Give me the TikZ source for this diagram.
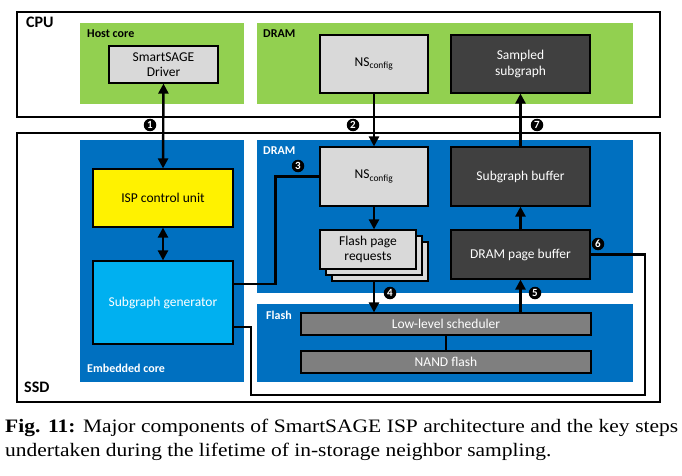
\documentclass[tikz,border=0pt]{standalone}
\usepackage{fontspec}
\setmainfont{Liberation Serif}
\newfontfamily\calib{Carlito}
\newfontfamily\capfont[FakeStretch=1.13]{Liberation Serif}
\usepackage{xcolor}
\usetikzlibrary{arrows.meta}

\definecolor{hostgreen}{HTML}{92D050}
\definecolor{ssdblue}{HTML}{0070C0}
\definecolor{genblue}{HTML}{00B0F0}
\definecolor{lightbox}{HTML}{D9D9D9}
\definecolor{darkbox}{HTML}{404040}
\definecolor{midbox}{HTML}{7F7F7F}

\tikzset{
  blk/.style={draw=black, line width=1.2pt, align=center, inner sep=0pt,
    font=\calib\fontsize{13.5}{15.5}\selectfont},
  lightblk/.style={blk, fill=lightbox},
  darkblk/.style={blk, fill=darkbox, text=white},
  flashblk/.style={blk, fill=midbox, text=white},
  region/.style={font=\calib\bfseries\fontsize{12}{14}\selectfont, anchor=north west, inner sep=0pt},
  stepnum/.style={circle, fill=black, text=white, inner sep=0pt, minimum size=12.5pt,
    font=\calib\bfseries\fontsize{11}{11}\selectfont},
  flow/.style={line width=2.4pt, -{Triangle[length=10pt,width=10pt]}},
  link/.style={line width=2.4pt},
}

\begin{document}
\begin{tikzpicture}[x=1pt,y=-1pt]
\useasboundingbox (0,0) rectangle (682,476);

% outer boxes
\draw[line width=1.5pt] (17,12) rectangle (660,117);
\draw[line width=1.5pt] (17,133) rectangle (660,402);
\node[region, font=\calib\bfseries\fontsize{16}{18}\selectfont] at (26,17) {CPU};
\node[region, font=\calib\bfseries\fontsize{16}{18}\selectfont] at (24,382) {SSD};

% coloured regions
\fill[hostgreen] (80,23) rectangle (244,104);
\fill[hostgreen] (257,23) rectangle (633,104);
\fill[ssdblue] (80,140) rectangle (244,382);
\fill[ssdblue] (257,140) rectangle (633,293);
\fill[ssdblue] (257,304) rectangle (633,382);

\node[region] at (87,30) {Host core};
\node[region] at (263,30) {DRAM};
\node[region, text=white] at (263,147) {DRAM};
\node[region, text=white] at (266,311) {Flash};
\node[region, text=white] at (87,364) {Embedded core};

% blocks
\node[lightblk, minimum width=109, minimum height=37] (driver) at (163.5,64.5) {SmartSAGE\\Driver};
\node[lightblk, minimum width=108, minimum height=58] (nshost) at (374,64) {NS\textsubscript{config}};
\node[darkblk, minimum width=139, minimum height=58] (sampled) at (520.5,64) {Sampled\\subgraph};

\node[blk, fill=yellow, minimum width=140, minimum height=58] (isp) at (163,198) {ISP control unit};
\node[blk, fill=genblue, text=white, minimum width=140, minimum height=83] (subgen) at (163,302.5) {Subgraph generator};

\node[lightblk, minimum width=108, minimum height=59] (nsssd) at (374,176.5) {NS\textsubscript{config}};
\node[lightblk, minimum width=96, minimum height=39] (fprc) at (380,261.5) {};
\node[lightblk, minimum width=96, minimum height=39] (fprb) at (374,255.5) {};
\node[lightblk, minimum width=96, minimum height=39] (fpr) at (368,249.5) {Flash page\\requests};

\node[darkblk, minimum width=139, minimum height=59] (subbuf) at (520.5,176.5) {Subgraph buffer};
\node[darkblk, minimum width=139, minimum height=49] (dpb) at (520.5,254.5) {DRAM page buffer};

\node[flashblk, minimum width=290, minimum height=22] (lls) at (446,324) {Low-level scheduler};
\node[flashblk, minimum width=290, minimum height=22] (nand) at (446,362) {NAND flash};

% connectors
\draw[flow, {Triangle[length=10pt,width=10pt]}-{Triangle[length=10pt,width=10pt]}] (driver.south) -- (isp.north);
\draw[flow, {Triangle[length=10pt,width=10pt]}-{Triangle[length=10pt,width=10pt]}] (isp.south) -- (subgen.north);
\draw[flow] (nshost.south) -- (nsssd.north);
\draw[link] ([yshift=18.5pt]subgen.east) -- ++(42,0) |- (nsssd.west);
\draw[flow] (nsssd.south) -- (nsssd.south |- fpr.north);
\draw[flow] (nsssd.south |- fprc.south) -- (nsssd.south |- lls.north);
\draw[flow] (dpb.south |- lls.north) -- (dpb.south);
\draw[flow] (dpb.north) -- (subbuf.south);
\draw[flow] (subbuf.north) -- (sampled.south);
\draw[link] (dpb.east) -| (645,395) -- (251,395) |- ([yshift=-24.5pt]subgen.east);
\draw[line width=1.5pt] (lls.south) -- (nand.north);

% step numbers
\node[stepnum] (s1) at (150,125) {1};
\node[stepnum] (s2) at (353,125) {2};
\node[stepnum] (s3) at (298,166) {3};
\node[stepnum] (s4) at (390,293) {4};
\node[stepnum] (s5) at (535,293) {5};
\node[stepnum] (s6) at (598,244) {6};
\node[stepnum] (s7) at (537,125) {7};

% caption
\node[anchor=north west, inner sep=0pt, text width=673, align=justify,
  font=\capfont\fontsize{19}{24}\selectfont] (cap) at (5,419)
  {\textbf{Fig. 11:} Major components of SmartSAGE ISP architecture and the key steps undertaken during the lifetime of in-storage neighbor sampling.};

\end{tikzpicture}
\end{document}
